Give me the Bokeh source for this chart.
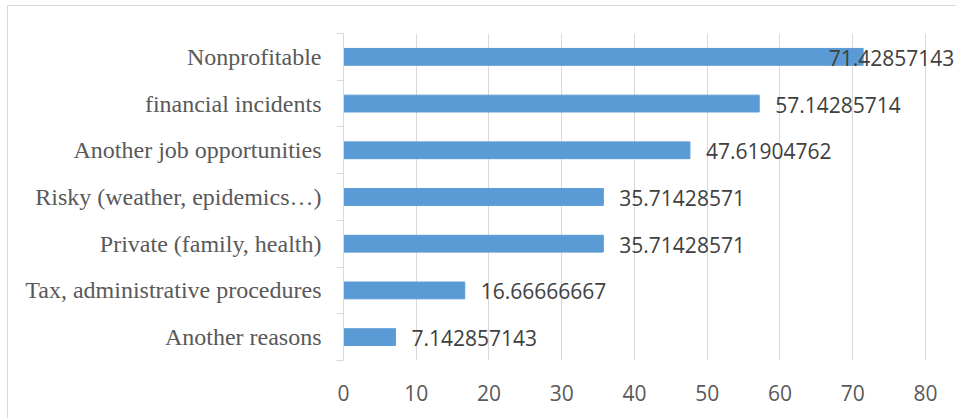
import numpy as np
from bokeh.plotting import figure
from bokeh.models import Range1d, FixedTicker, ColumnDataSource
from bokeh.core.properties import value
from bokeh.embed import file_html
from bokeh.resources import INLINE

# Data (bottom to top)
categories = [
    "Another reasons",
    "Tax, administrative procedures",
    "Private (family, health)",
    "Risky (weather, epidemics…)",
    "Another job opportunities",
    "financial incidents",
    "Nonprofitable",
]
values = [7.142857143, 16.66666667, 35.71428571, 35.71428571,
          47.61904762, 57.14285714, 71.42857143]
x_ticks = [0, 10, 20, 30, 40, 50, 60, 70, 80]

# layout constants
X_END = 84.4
LABEL_X_MAX = 64.5

n = len(categories)
centers = [i + 0.5 for i in range(n)]
bounds = list(range(n + 1))
label_x = np.minimum(np.array(values), LABEL_X_MAX)
label_txt = [f"{v:.10g}" for v in values]

src = ColumnDataSource(dict(y=centers, v=values, lx=label_x, txt=label_txt))

p = figure(width=949, height=413, output_backend="svg", toolbar_location=None,
           x_range=Range1d(0, X_END), y_range=Range1d(0, n),
           min_border_left=335, min_border_right=0, min_border_top=27,
           min_border_bottom=59)
p.margin = (5, 0, 0, 7)
p.styles = {"border-left": "1px solid #d9d9d9", "border-top": "1px solid #d9d9d9"}
p.outline_line_color = None
p.background_fill_color = "white"
p.border_fill_color = "white"

p.hbar(y="y", left=0, right="v", height=0.36, source=src,
       fill_color="#5B9BD5", line_color="#5B9BD5")

p.text(x="lx", y="y", text="txt", source=src, x_offset=16, y_offset=1,
       text_font=value("Open Sans"), text_font_size="21px",
       text_color="#404040", text_align="left", text_baseline="middle")

# x axis
xa = p.xaxis[0]
xa.ticker = FixedTicker(ticks=x_ticks)
xa.axis_line_color = None
xa.major_tick_line_color = None
xa.minor_tick_line_color = None
xa.major_label_text_font = "Open Sans"
xa.major_label_text_font_size = "21px"
xa.major_label_text_color = "#595959"
xa.major_label_standoff = 18

p.xgrid.ticker = FixedTicker(ticks=x_ticks)
p.xgrid.grid_line_color = "#d9d9d9"
p.ygrid.grid_line_color = None

# y axis
ya = p.yaxis[0]
ya.ticker = FixedTicker(ticks=centers, minor_ticks=bounds)
ya.major_label_overrides = {c: name for c, name in zip(centers, categories)}
ya.axis_line_color = "#d9d9d9"
ya.major_tick_line_color = None
ya.major_tick_out = 0
ya.major_tick_in = 0
ya.minor_tick_line_color = "#d9d9d9"
ya.minor_tick_out = 7
ya.minor_tick_in = 0
ya.major_label_text_font = "Liberation Serif"
ya.major_label_text_font_size = "24px"
ya.major_label_text_color = "#595959"
ya.major_label_standoff = 15

open("out.html", "w").write(file_html(p, INLINE))
